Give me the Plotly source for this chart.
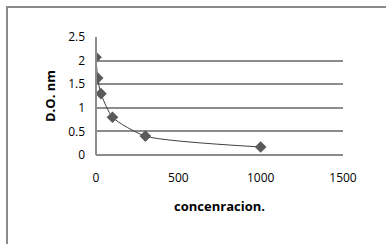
import plotly.graph_objects as go

concentracion = [0, 10, 30, 100, 300, 1000]
do_nm = [2.07, 1.63, 1.30, 0.80, 0.40, 0.17]
x_ticks = [0, 500, 1000, 1500]
y_ticks = [0, 0.5, 1, 1.5, 2, 2.5]

W, H = 386, 244
L, R, T, B = 96, 43, 37, 89
pw, ph = W - L - R, H - T - B

def px(xp):
    return (xp - L) / pw

def py(yp):
    return (H - B - yp) / ph

fig = go.Figure()
fig.add_trace(go.Scatter(
    x=concentracion, y=do_nm, mode="lines+markers",
    line=dict(color="#404040", width=1, shape="spline", smoothing=0.6),
    marker=dict(symbol="diamond", size=9, color="#5a5a5a"),
    showlegend=False, hoverinfo="skip",
))

grid_col = "#8c8c8c"
fig.update_layout(
    width=W, height=H,
    margin=dict(l=L, r=R, t=T, b=B),
    paper_bgcolor="white", plot_bgcolor="white",
    font=dict(family="Open Sans, sans-serif", size=12, color="#000000"),
    xaxis=dict(
        range=[0, 1500], tickvals=x_ticks, ticktext=[str(v) for v in x_ticks],
        showgrid=False, zeroline=False, showline=False, ticks="",
        ticklabelstandoff=14, automargin=False,
        title=dict(text="<b>concenracion.</b>", font=dict(size=13, family="Open Sans, sans-serif"), standoff=16),
        tickfont=dict(size=12),
    ),
    yaxis=dict(
        range=[0, 2.5], tickvals=y_ticks, ticktext=["0", "0.5", "1", "1.5", "2", "2.5"],
        showgrid=True, gridcolor=grid_col, gridwidth=2,
        zeroline=False, showline=False, ticks="",
        ticklabelstandoff=10, automargin=False,
        title=dict(text="<b>D.O. nm</b>", font=dict(size=13, family="Open Sans, sans-serif"), standoff=9),
        tickfont=dict(size=12),
    ),
    shapes=[
        dict(type="line", xref="paper", yref="paper", x0=0, x1=0, y0=0, y1=1,
             line=dict(color=grid_col, width=2)),
        dict(type="line", xref="paper", yref="paper", x0=0, x1=1, y0=0, y1=0,
             line=dict(color=grid_col, width=2)),
        dict(type="line", xref="paper", yref="paper", x0=px(6), x1=px(W + 5), y0=py(7), y1=py(7),
             line=dict(color="#8a8a8a", width=2), layer="above"),
        dict(type="line", xref="paper", yref="paper", x0=px(7), x1=px(7), y0=py(6), y1=py(H + 5),
             line=dict(color="#8a8a8a", width=2), layer="above"),
    ],
)

fig.write_html("out.html", config={"displayModeBar": False},
               post_script="document.body.style.margin='0';")
